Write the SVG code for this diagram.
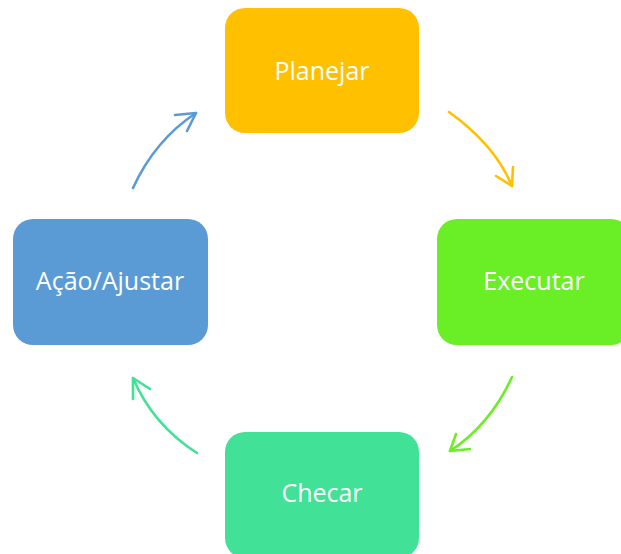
<svg xmlns="http://www.w3.org/2000/svg" width="621" height="554" viewBox="0 0 621 554">
  <style>
    .box { stroke: none; }
    .label { font-family: "Open Sans", "Liberation Sans", sans-serif; font-size: 25px; fill: #ffffff; text-anchor: middle; }
    .arc { fill: none; stroke-width: 2.6; stroke-linecap: round; stroke-linejoin: round; }
  </style>
  <rect width="621" height="554" fill="#ffffff"/>

  <g id="planejar">
    <rect class="box" x="225" y="8" width="194" height="125" rx="20" fill="#FFC000"/>
    <text class="label" x="322" y="80">Planejar</text>
  </g>
  <g id="executar">
    <rect class="box" x="437" y="219" width="194" height="126" rx="20" fill="#6AEE26"/>
    <text class="label" x="534" y="290">Executar</text>
  </g>
  <g id="checar">
    <rect class="box" x="225" y="432" width="194" height="126" rx="20" fill="#41E197"/>
    <text class="label" x="322" y="502">Checar</text>
  </g>
  <g id="acao">
    <rect class="box" x="13" y="219" width="195" height="126" rx="20" fill="#5B9BD5"/>
    <text class="label" x="110" y="290">Ação/Ajustar</text>
  </g>

  <g id="connectors">
    <!-- Planejar to Executar -->
    <path class="arc" stroke="#FFC000" d="M449 112 Q495 145 512 186"/>
    <polyline class="arc" stroke="#FFC000" points="513,167 512,186 496,176"/>
    <!-- Executar to Checar -->
    <path class="arc" stroke="#6AEE26" d="M512 377 Q490 425 450 451"/>
    <polyline class="arc" stroke="#6AEE26" points="456,434 450,451 470,449"/>
    <!-- Checar to Ação/Ajustar -->
    <path class="arc" stroke="#41E197" d="M197 453 Q153 425 133 378"/>
    <polyline class="arc" stroke="#41E197" points="133,399 133,378 150,389"/>
    <!-- Ação/Ajustar to Planejar -->
    <path class="arc" stroke="#5B9BD5" d="M133 188 Q155 140 196 113"/>
    <polyline class="arc" stroke="#5B9BD5" points="175,115 196,113 187,131"/>
  </g>
</svg>
